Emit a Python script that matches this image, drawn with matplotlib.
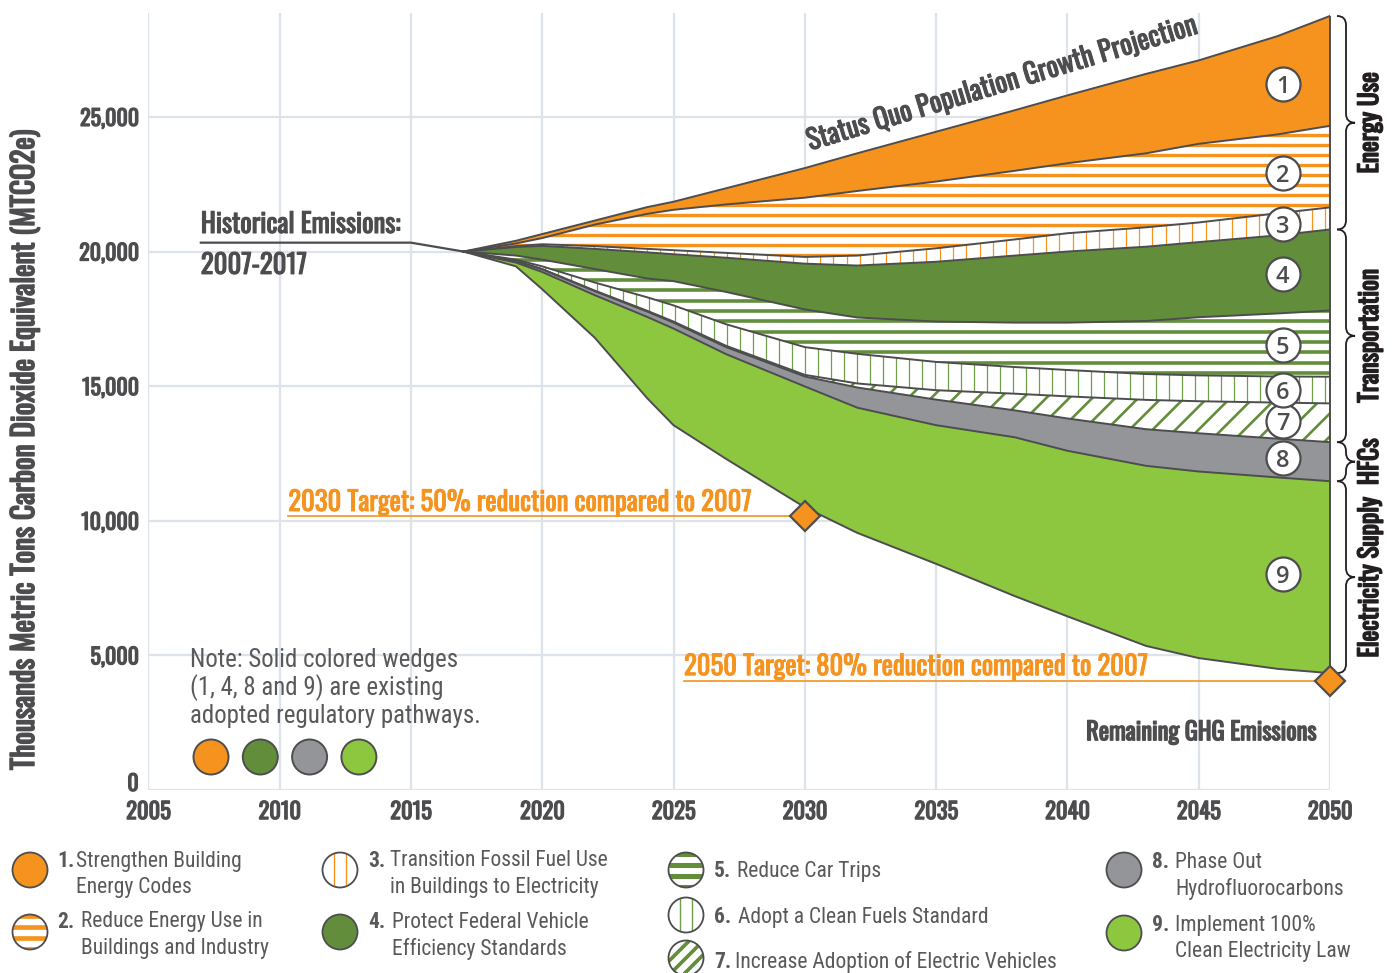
import numpy as np
import matplotlib
matplotlib.use("Agg")
import matplotlib.pyplot as plt
import matplotlib.transforms as mtransforms
import matplotlib.patheffects as pe
from matplotlib.collections import LineCollection
from matplotlib.patches import Circle, PathPatch
from matplotlib.path import Path

# ---------------- data ----------------
years = [2017, 2019, 2020, 2022, 2024, 2025, 2027, 2030, 2032, 2035, 2038, 2040, 2043, 2045, 2048, 2050]
remaining_emissions = [20000, 19450, 18600, 16800, 14550, 13550, 12300, 10500, 9550, 8400, 7200, 6450, 5350, 4900, 4500, 4340]
wedge_9_clean_electricity = [0, 140, 640, 1580, 3020, 3590, 3890, 4490, 4650, 5150, 5900, 6150, 6690, 6930, 7110, 7130]
wedge_8_hfcs = [0, 60, 100, 150, 200, 220, 260, 370, 750, 950, 1000, 1200, 1360, 1420, 1440, 1450]
wedge_7_electric_vehicles = [0, 0, 10, 20, 30, 40, 50, 60, 150, 350, 620, 820, 1090, 1190, 1340, 1440]
wedge_6_clean_fuels = [0, 50, 100, 300, 500, 600, 800, 1030, 1100, 1050, 990, 980, 960, 960, 970, 990]
wedge_5_car_trips = [0, 150, 250, 500, 700, 900, 1200, 1400, 1350, 1500, 1650, 1760, 1970, 2160, 2340, 2460]
wedge_4_vehicle_standards = [0, 320, 510, 750, 970, 1000, 1270, 1700, 1930, 2220, 2490, 2640, 2760, 2790, 2900, 3010]
wedge_3_building_electrification = [0, 30, 60, 100, 130, 150, 180, 250, 370, 500, 600, 680, 720, 730, 820, 820]
wedge_2_energy_use = [0, 100, 230, 800, 1300, 1500, 1800, 2200, 2400, 2480, 2550, 2600, 2750, 2920, 2930, 3030]
wedge_1_building_codes = [0, 100, 150, 150, 250, 300, 600, 1100, 1400, 1850, 2250, 2520, 2950, 3100, 3650, 4080]

hist_years = [2007, 2015, 2017]
hist_emissions = [20330, 20330, 20000]

target_years = [2030, 2050]
target_reductions = [0.50, 0.80]
target_labels = ["2030 Target: 50% reduction compared to 2007",
                 "2050 Target: 80% reduction compared to 2007"]

x_ticks = [2005, 2010, 2015, 2020, 2025, 2030, 2035, 2040, 2045, 2050]
y_ticks = [0, 5000, 10000, 15000, 20000, 25000]

wedge_numbers = ["9", "8", "7", "6", "5", "4", "3", "2", "1"]   # bottom to top
group_names = ["Energy Use", "Transportation", "HFCs", "Electricity Supply"]
group_bounds = [(6, 9), (2, 6), (1, 2), (0, 1)]                  # boundary indices

legend_numbers = ["1.", "2.", "3.", "4.", "5.", "6.", "7.", "8.", "9."]
legend_texts = [["Strengthen Building", "Energy Codes"],
                ["Reduce Energy Use in", "Buildings and Industry"],
                ["Transition Fossil Fuel Use", "in Buildings to Electricity"],
                ["Protect Federal Vehicle", "Efficiency Standards"],
                ["Reduce Car Trips"],
                ["Adopt a Clean Fuels Standard"],
                ["Increase Adoption of Electric Vehicles"],
                ["Phase Out", "Hydrofluorocarbons"],
                ["Implement 100%", "Clean Electricity Law"]]
note_lines = ["Note: Solid colored wedges", "(1, 4, 8 and 9) are existing",
              "adopted regulatory pathways."]

# ---------------- style ----------------
ORANGE = "#F6931E"
DKGREEN = "#628E3B"
LTGREEN = "#8DC63F"
GRAY = "#939598"
EDGE = "#4D4D4F"
TXT = "#4D4D4F"
LEGTXT = "#58595B"
DARK = "#231F20"
GRID = "#DDE3EA"
HEAD = ["Oswald", "DejaVu Sans"]
COND = ["Roboto Condensed", "IBM Plex Sans Condensed", "DejaVu Sans"]
ROUND = ["Open Sans", "DejaVu Sans"]


def heavy(color, w=0.7):
    return [pe.withStroke(linewidth=w, foreground=color)]


FIG_W, FIG_H, DPI = 1395, 973, 100
AX_L, AX_R, AX_T, AX_B = 148.3, 1330.0, 13.0, 790.0
AX_W, AX_H = AX_R - AX_L, AX_B - AX_T
Y_TOP = 28860

fig = plt.figure(figsize=(FIG_W / DPI, FIG_H / DPI), dpi=DPI)
ax = fig.add_axes([AX_L / FIG_W, 1 - AX_B / FIG_H, AX_W / FIG_W, AX_H / FIG_H])
ax.set_xlim(2005, 2050)
ax.set_ylim(0, Y_TOP)
for s in ax.spines.values():
    s.set_visible(False)
ax.set_xticks(x_ticks)
ax.set_yticks(y_ticks)
ax.set_xticklabels([str(t) for t in x_ticks], family=HEAD, size=16.2, color=TXT)
ax.set_yticklabels([f"{t:,}" for t in y_ticks], family=HEAD, size=15.8, color=TXT)
for lab in ax.get_xticklabels() + ax.get_yticklabels():
    lab.set_path_effects(heavy(TXT, 0.9))
ax.tick_params(length=0, pad=7)
ax.tick_params(axis="x", pad=8)
ax.grid(True, color=GRID, lw=1.6)
ax.set_axisbelow(True)
lbl0 = ax.get_yticklabels()[0]
lbl0.set_transform(lbl0.get_transform() + mtransforms.ScaledTranslation(0, 0.08, fig.dpi_scale_trans))

fig.text(25 / FIG_W, 1 - 450 / FIG_H, "Thousands Metric Tons Carbon Dioxide Equivalent (MTCO2e)",
         rotation=90, ha="center", va="center", family=HEAD, size=21.3, color=TXT,
         path_effects=heavy(TXT, 1.1))

pix = mtransforms.Affine2D().scale(1 / AX_W, 1 / AX_H) + ax.transAxes


def stripe_segments(kind, x0, y0, x1, y1, period, ax_=0.0, ay_=0.0):
    """Stripe lines covering the box, passing through anchor (ax_, ay_)."""
    if kind == "h":
        start = y0 + ((ay_ - y0) % period)
        return [[(x0, y), (x1, y)] for y in np.arange(start, y1, period)]
    if kind == "v":
        start = x0 + ((ax_ - x0) % period)
        return [[(x, y0), (x, y1)] for x in np.arange(start, x1, period)]
    h = y1 - y0
    start = (x0 - h) + (((ax_ - (ay_ - y0)) - (x0 - h)) % period)
    return [[(x, y0), (x + h, y1)] for x in np.arange(start, x1, period)]


STRIPES = {
    "h_orange": ("h", ORANGE, 2.4, 10.0),
    "v_orange": ("v", ORANGE, 0.9, 13.3),
    "h_green": ("h", DKGREEN, 2.6, 10.3),
    "v_green": ("v", "#6F9E4A", 0.9, 13.0),
    "d_green": ("d", DKGREEN, 1.9, 23.0),
}

# ---------------- stacked wedges ----------------
wedges = [wedge_9_clean_electricity, wedge_8_hfcs, wedge_7_electric_vehicles,
          wedge_6_clean_fuels, wedge_5_car_trips, wedge_4_vehicle_standards,
          wedge_3_building_electrification, wedge_2_energy_use, wedge_1_building_codes]
fills = [LTGREEN, GRAY, "d_green", "v_green", "h_green", DKGREEN, "v_orange", "h_orange", ORANGE]

yrs = np.array(years, float)
bounds = [np.array(remaining_emissions, float)]
for w in wedges:
    bounds.append(bounds[-1] + np.array(w, float))

for i, style in enumerate(fills):
    lo, hi = bounds[i], bounds[i + 1]
    if style in STRIPES:
        coll = ax.fill_between(yrs, lo, hi, facecolor="white", edgecolor="none", lw=0, zorder=2)
        kind, col, lw, per = STRIPES[style]
        lc = LineCollection(stripe_segments(kind, 0, 0, AX_W, AX_H, per, per / 2, per / 2),
                            colors=col, linewidths=lw, transform=pix, zorder=2.5)
        ax.add_collection(lc)
        lc.set_clip_path(coll.get_paths()[0], ax.transData)
    else:
        ax.fill_between(yrs, lo, hi, facecolor=style, edgecolor="none", lw=0, zorder=2)

for b in bounds:
    ax.plot(yrs, b, color=EDGE, lw=1.4, zorder=4, solid_joinstyle="round")
ax.vlines(yrs[-1], bounds[0][-1], bounds[-1][-1], color=EDGE, lw=1.4, zorder=4, clip_on=False)

# historical
ax.plot(hist_years, hist_emissions, color=EDGE, lw=1.6, zorder=4)
ax.text(hist_years[0], 20690, "Historical Emissions:", ha="left", va="baseline",
        family=HEAD, size=19.3, color=TXT, path_effects=heavy(TXT, 0.8))
ax.text(hist_years[0], 19170, f"{hist_years[0]}-{hist_years[-1]}", ha="left", va="baseline",
        family=HEAD, size=19.3, color=TXT, path_effects=heavy(TXT, 0.8))

# status quo label
ax.text(2030.2, 23750, "Status Quo Population Growth Projection", rotation=16.8,
        rotation_mode="anchor", ha="left", va="baseline", family=HEAD,
        size=19.8, color=TXT, zorder=6, path_effects=heavy(TXT, 0.8))

# targets
target_text_x = [2010.33, 2025.4]
for ty, red, lab, tx in zip(target_years, target_reductions, target_labels, target_text_x):
    tv = hist_emissions[0] * (1 - red)
    ax.plot([tx, ty], [tv, tv], color=ORANGE, lw=1.2, zorder=5, clip_on=False)
    ax.text(tx, tv + 200, lab, ha="left", va="baseline", family=HEAD, size=19.2,
            color=ORANGE, zorder=6, path_effects=heavy(ORANGE, 0.7))
    ax.plot([ty], [tv], marker="D", ms=15, mfc=ORANGE, mec=EDGE, mew=1.6,
            zorder=9, clip_on=False)

ax.text(2049.5, 1850, "Remaining GHG Emissions", ha="right", va="baseline",
        family=HEAD, size=17.6, color=TXT, path_effects=heavy(TXT, 1.0))

# numbered circles
xc = 2048.2
for i, num in enumerate(wedge_numbers):
    ymid = (np.interp(xc, yrs, bounds[i]) + np.interp(xc, yrs, bounds[i + 1])) / 2
    ax.scatter([xc], [ymid], s=600, facecolor="white", edgecolor=EDGE, lw=1.6,
               zorder=10, clip_on=False)
    ax.text(xc, ymid, num, ha="center", va="center_baseline", family=ROUND, weight=600,
            size=17, color=EDGE, zorder=11)

# braces
btrans = mtransforms.blended_transform_factory(ax.transAxes, ax.transData)
PXU = AX_H / Y_TOP
for name, (ib, it) in zip(group_names, group_bounds):
    top, bot = bounds[it][-1], bounds[ib][-1]
    x0 = 1 + 7 / AX_W
    rx = 9 / AX_W
    ry = 9 / PXU
    mid = (top + bot) / 2
    verts = [(x0, top), (x0 + rx, top), (x0 + rx, top - ry),
             (x0 + rx, mid + ry), (x0 + rx, mid), (x0 + 2 * rx, mid),
             (x0 + rx, mid), (x0 + rx, mid - ry),
             (x0 + rx, bot + ry), (x0 + rx, bot), (x0, bot)]
    codes = [Path.MOVETO, Path.CURVE3, Path.CURVE3, Path.LINETO, Path.CURVE3, Path.CURVE3,
             Path.CURVE3, Path.CURVE3, Path.LINETO, Path.CURVE3, Path.CURVE3]
    ax.add_patch(PathPatch(Path(verts, codes), transform=btrans, fill=False,
                           edgecolor=DARK, lw=1.3, clip_on=False))
    ax.text(1 + 40 / AX_W, mid, name, transform=btrans, rotation=90, ha="center",
            va="center", family=HEAD, size=18.3, color=DARK, path_effects=heavy(DARK, 1.1))

# ---------------- overlay (note + legend), pixel coordinates ----------------
ov = fig.add_axes([0, 0, 1, 1], zorder=5)
ov.set_xlim(0, FIG_W)
ov.set_ylim(0, FIG_H)
ov.axis("off")
ov.patch.set_alpha(0)


def Y(y):
    return FIG_H - y


for k, line in enumerate(note_lines):
    ov.text(190, Y(660 + 28 * k), line, ha="left", va="center", family=COND,
            size=17.9, color=LEGTXT)
for k, col in enumerate([ORANGE, DKGREEN, GRAY, LTGREEN]):
    ov.add_patch(Circle((211 + 49.3 * k, Y(757)), 17.5, facecolor=col, edgecolor=EDGE, lw=1.4))


def legend_circle(x, y, r, style):
    cy = Y(y)
    if style in STRIPES:
        base = Circle((x, cy), r, facecolor="white", edgecolor="none", zorder=2)
        ov.add_patch(base)
        kind, col, lw, per = STRIPES[style]
        per = {"h": 11.0, "v": 12.5, "d": 14.0}[kind]
        segs = stripe_segments(kind, x - r, cy - r, x + r, cy + r, per,
                               x + per / 2, cy + per / 2)
        lc = LineCollection(segs, colors=col, linewidths=lw * 1.4 if kind != "v" else 1.0, zorder=3)
        ov.add_collection(lc)
        lc.set_clip_path(base)
        ov.add_patch(Circle((x, cy), r, fill=False, edgecolor=EDGE, lw=1.3, zorder=4))
    else:
        ov.add_patch(Circle((x, cy), r, facecolor=style, edgecolor=EDGE, lw=1.3, zorder=4))


leg_fill = [ORANGE, "h_orange", "v_orange", DKGREEN, "h_green", "v_green", "d_green", GRAY, LTGREEN]
leg_circ = [(30, 870), (30, 932), (340, 870), (340, 932), (686, 870), (686, 915), (686, 958),
            (1124, 870), (1124, 933)]
leg_num_x = [57, 57, 368, 368, 714, 714, 714, 1152, 1152]
leg_txt_x = [76, 81, 390, 392, 737, 738, 735, 1175, 1175]
leg_line1 = [861, 922, 861, 922, 871, 917, 962, 862, 925]
for i in range(9):
    cx, cy = leg_circ[i]
    legend_circle(cx, cy, 17.5, leg_fill[i])
    ov.text(leg_num_x[i], Y(leg_line1[i]), legend_numbers[i], ha="left", va="center",
            family=COND, weight="bold", size=15.5, color=LEGTXT)
    for k, line in enumerate(legend_texts[i]):
        ov.text(leg_txt_x[i], Y(leg_line1[i] + 26.5 * k), line, ha="left", va="center",
                family=COND, size=15.5, color=LEGTXT)

fig.savefig("out.png", dpi=DPI)
